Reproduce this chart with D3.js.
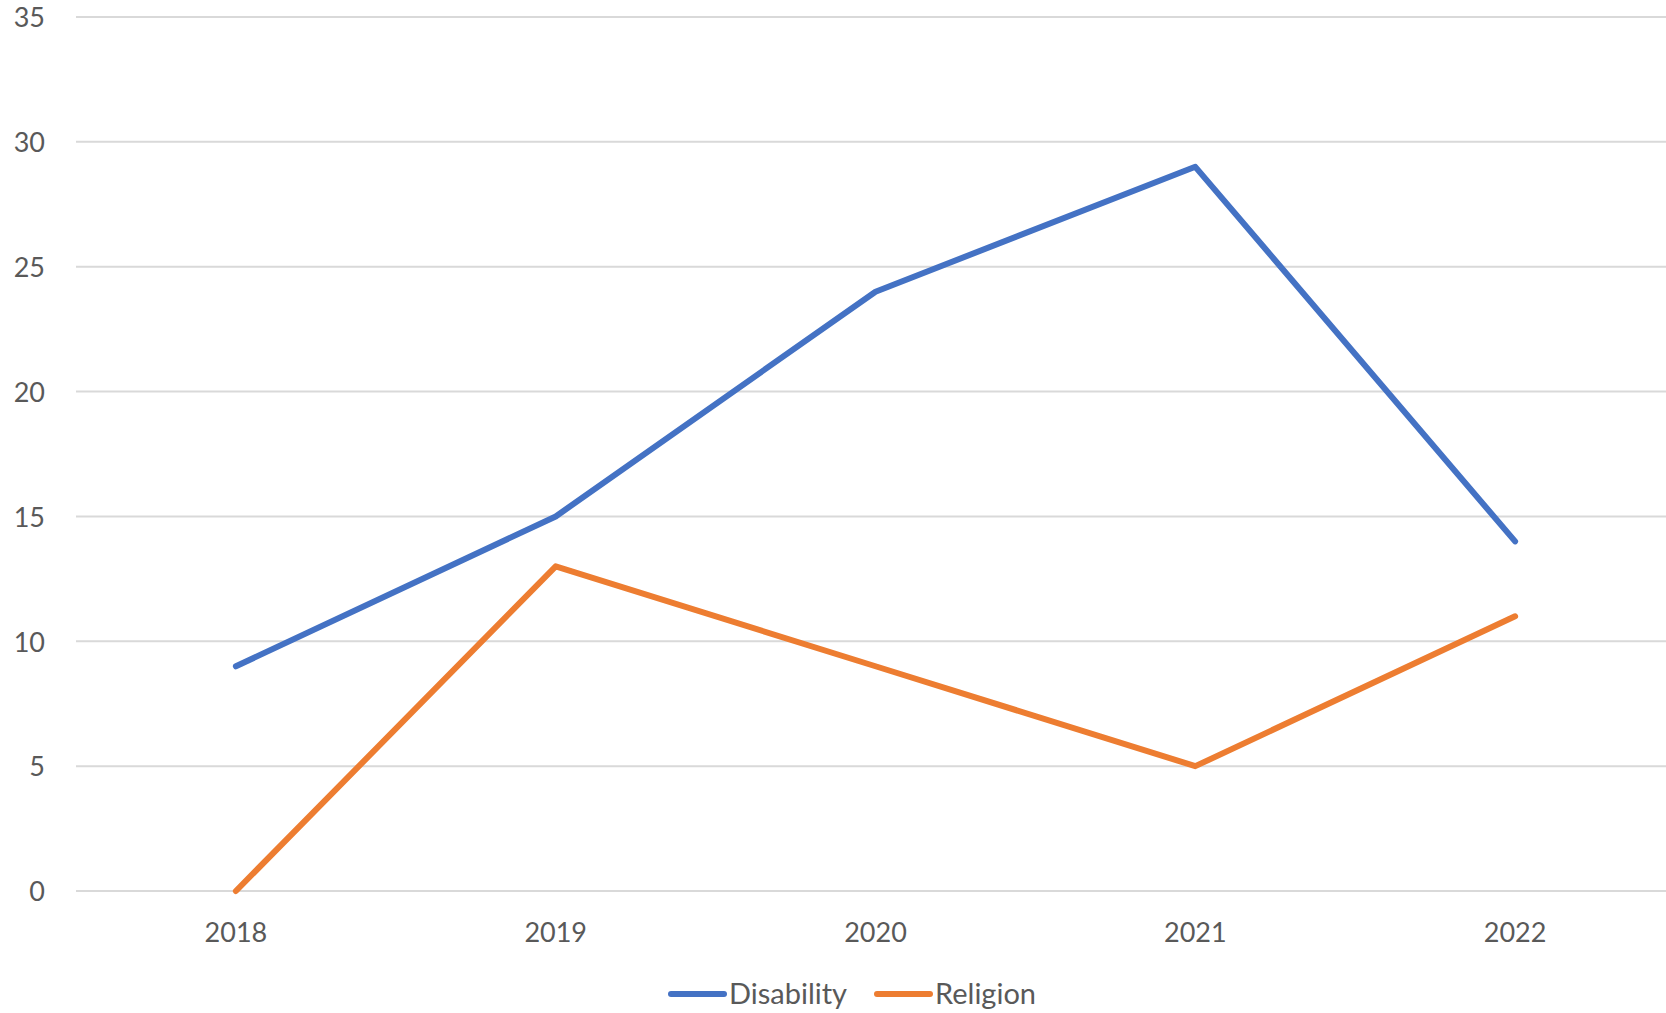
<!DOCTYPE html>
<html>
<head>
<meta charset="utf-8">
<script src="https://cdn.jsdelivr.net/npm/d3@7"></script>
<style>
  html, body { margin: 0; padding: 0; background: #fff; }
  svg { display: block; }
  text { font-family: Lato, "Open Sans", sans-serif; fill: #595959; }
</style>
</head>
<body>
<script>
// Yearly counts by category
const years = ["2018", "2019", "2020", "2021", "2022"];
const disability = [9, 15, 24, 29, 14];
const religion = [0, 13, 9, 5, 11];
const yTicks = [0, 5, 10, 15, 20, 25, 30, 35];

const series = [
  { name: "Disability", values: disability, color: "#4472C4" },
  { name: "Religion", values: religion, color: "#ED7D31" }
];

const W = 1666, H = 1013;
const svg = d3.select("body").append("svg").attr("width", W).attr("height", H);

const x = d3.scaleBand().domain(years).range([76, 1675]);
const y = d3.scaleLinear().domain([0, 35]).range([891, 17]);

// Horizontal gridlines
svg.append("g")
  .selectAll("line")
  .data(yTicks)
  .join("line")
  .attr("x1", 76).attr("x2", W)
  .attr("y1", d => y(d)).attr("y2", d => y(d))
  .attr("stroke", "#D9D9D9").attr("stroke-width", 2);

// Y axis labels
const yAxis = svg.append("g")
  .attr("transform", "translate(45,0)")
  .call(d3.axisLeft(y).tickValues(yTicks).tickSize(0).tickPadding(0));
yAxis.select(".domain").remove();
yAxis.selectAll("text")
  .attr("font-size", 27).attr("font-family", null)
  .style("fill", "#595959").attr("dy", "0.36em");

// X axis labels
const xAxis = svg.append("g")
  .attr("transform", "translate(0,891)")
  .call(d3.axisBottom(x).tickSize(0).tickPadding(0));
xAxis.select(".domain").remove();
xAxis.selectAll("text")
  .attr("font-size", 27).attr("font-family", null)
  .style("fill", "#595959").attr("y", 51).attr("dy", 0);

// Lines
const line = d3.line()
  .x((d, i) => x(years[i]) + x.bandwidth() / 2)
  .y(d => y(d));

svg.append("g")
  .selectAll("path")
  .data(series)
  .join("path")
  .attr("d", d => line(d.values))
  .attr("fill", "none")
  .attr("stroke", d => d.color)
  .attr("stroke-width", 6)
  .attr("stroke-linejoin", "round")
  .attr("stroke-linecap", "round");

// Legend
const legendY = 994;
const legendItems = [
  { s: series[0], x0: 671, tx: 729 },
  { s: series[1], x0: 877, tx: 935 }
];
const lg = svg.append("g");
legendItems.forEach(it => {
  lg.append("line")
    .attr("x1", it.x0).attr("x2", it.x0 + 53)
    .attr("y1", legendY).attr("y2", legendY)
    .attr("stroke", it.s.color).attr("stroke-width", 6)
    .attr("stroke-linecap", "round");
  lg.append("text")
    .attr("x", it.tx).attr("y", legendY)
    .attr("dy", "0.36em")
    .attr("font-size", 29)
    .text(it.s.name);
});
</script>
</body>
</html>
